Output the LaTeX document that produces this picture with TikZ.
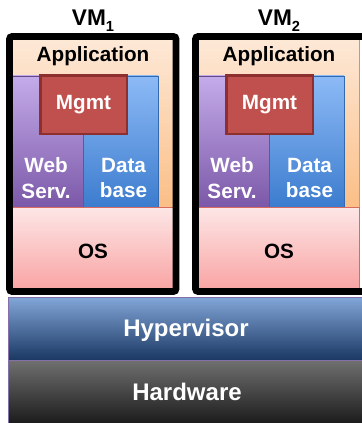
\documentclass[tikz,border=0pt]{standalone}
\usepackage{fontspec}
\setmainfont{Liberation Sans}
\begin{document}
\begin{tikzpicture}[x=0.75pt,y=-0.75pt,
  lbl/.style={font=\bfseries\fontsize{15.5pt}{19pt}\selectfont, inner sep=0pt, align=center},
  big/.style={font=\bfseries\fontsize{18pt}{20pt}\selectfont, inner sep=0pt, text=white},
  vmlbl/.style={font=\bfseries\fontsize{17pt}{19pt}\selectfont, inner sep=0pt},
  appbox/.style={top color=appT, bottom color=appB, draw=appB!80!black, line width=0.6pt},
  webbox/.style={top color=webT, bottom color=webB, draw=webB!80!black, line width=0.6pt},
  dbbox/.style={top color=dbT, bottom color=dbB, draw=dbB!85!black, line width=0.6pt},
  mgmtbox/.style={fill=mgmtF, draw=mgmtD, line width=2pt},
  osbox/.style={top color=osT, bottom color=osB, draw=osD, line width=0.8pt},
  vmframe/.style={draw=black, line width=5.1pt, rounded corners=2pt},
  hypbox/.style={top color=hypT, bottom color=hypB, draw=frameP, line width=0.6pt},
  hwbox/.style={top color=hwT, bottom color=hwB, draw=frameP, line width=0.6pt}]
\definecolor{appT}{HTML}{FDE9D8}
\definecolor{appB}{HTML}{FBBE86}
\definecolor{webT}{HTML}{C4ABEA}
\definecolor{webB}{HTML}{7B58A8}
\definecolor{dbT}{HTML}{8DBAF6}
\definecolor{dbB}{HTML}{3C7CCE}
\definecolor{mgmtF}{HTML}{C0504D}
\definecolor{mgmtD}{HTML}{8C2F2D}
\definecolor{osT}{HTML}{FDE6E6}
\definecolor{osB}{HTML}{F9A2A2}
\definecolor{osD}{HTML}{D96A5F}
\definecolor{hypT}{HTML}{82A6D8}
\definecolor{hypB}{HTML}{1B3863}
\definecolor{hwT}{HTML}{707070}
\definecolor{hwB}{HTML}{1C1C1C}
\definecolor{frameP}{HTML}{8470A8}
\useasboundingbox (0,0) rectangle (361,423);
\fill[white] (0,0) rectangle (361,423);
% Hypervisor and hardware
\path[hypbox] (8,297) rectangle (366,360);
\path[hwbox] (8,360) rectangle (366,423);
\node[big] (hyp) at (186,330) {Hypervisor};
\node[big] (hw) at (187,392) {Hardware};
% VMs
\foreach \i/\dx/\cright/\fright in {1/0/176/176, 2/186/173.5/181}{
  \begin{scope}[xshift=\dx*0.75pt]
    \path[appbox] (9.5,36.5) rectangle (\cright,208);
    \path[webbox] (12.7,76) rectangle (83,207.5);
    \path[dbbox] (83,76) rectangle (158,207.5);
    \path[osbox] (9.5,207.5) rectangle (\cright,291.5);
    \path[mgmtbox] (40.5,75.5) rectangle (127,134);
    \draw[vmframe] (9.5,36.5) rectangle (\fright,291.5);
    \node[lbl] (app\i) at (93,56) {Application};
    \node[lbl, text=white] (mgmt\i) at (83.5,105) {Mgmt};
    \node[lbl, text=white] (web\i) at (46,178) {Web\\Serv.};
    \node[lbl, text=white] (db\i) at (123.5,178) {Data\\base};
    \node[lbl] (os\i) at (93,251) {OS};
    \node[vmlbl, anchor=base] (vm\i) at (93,26) {VM\raisebox{-0.45ex}{\fontsize{11pt}{12pt}\selectfont\i}};
  \end{scope}}
\end{tikzpicture}
\end{document}
